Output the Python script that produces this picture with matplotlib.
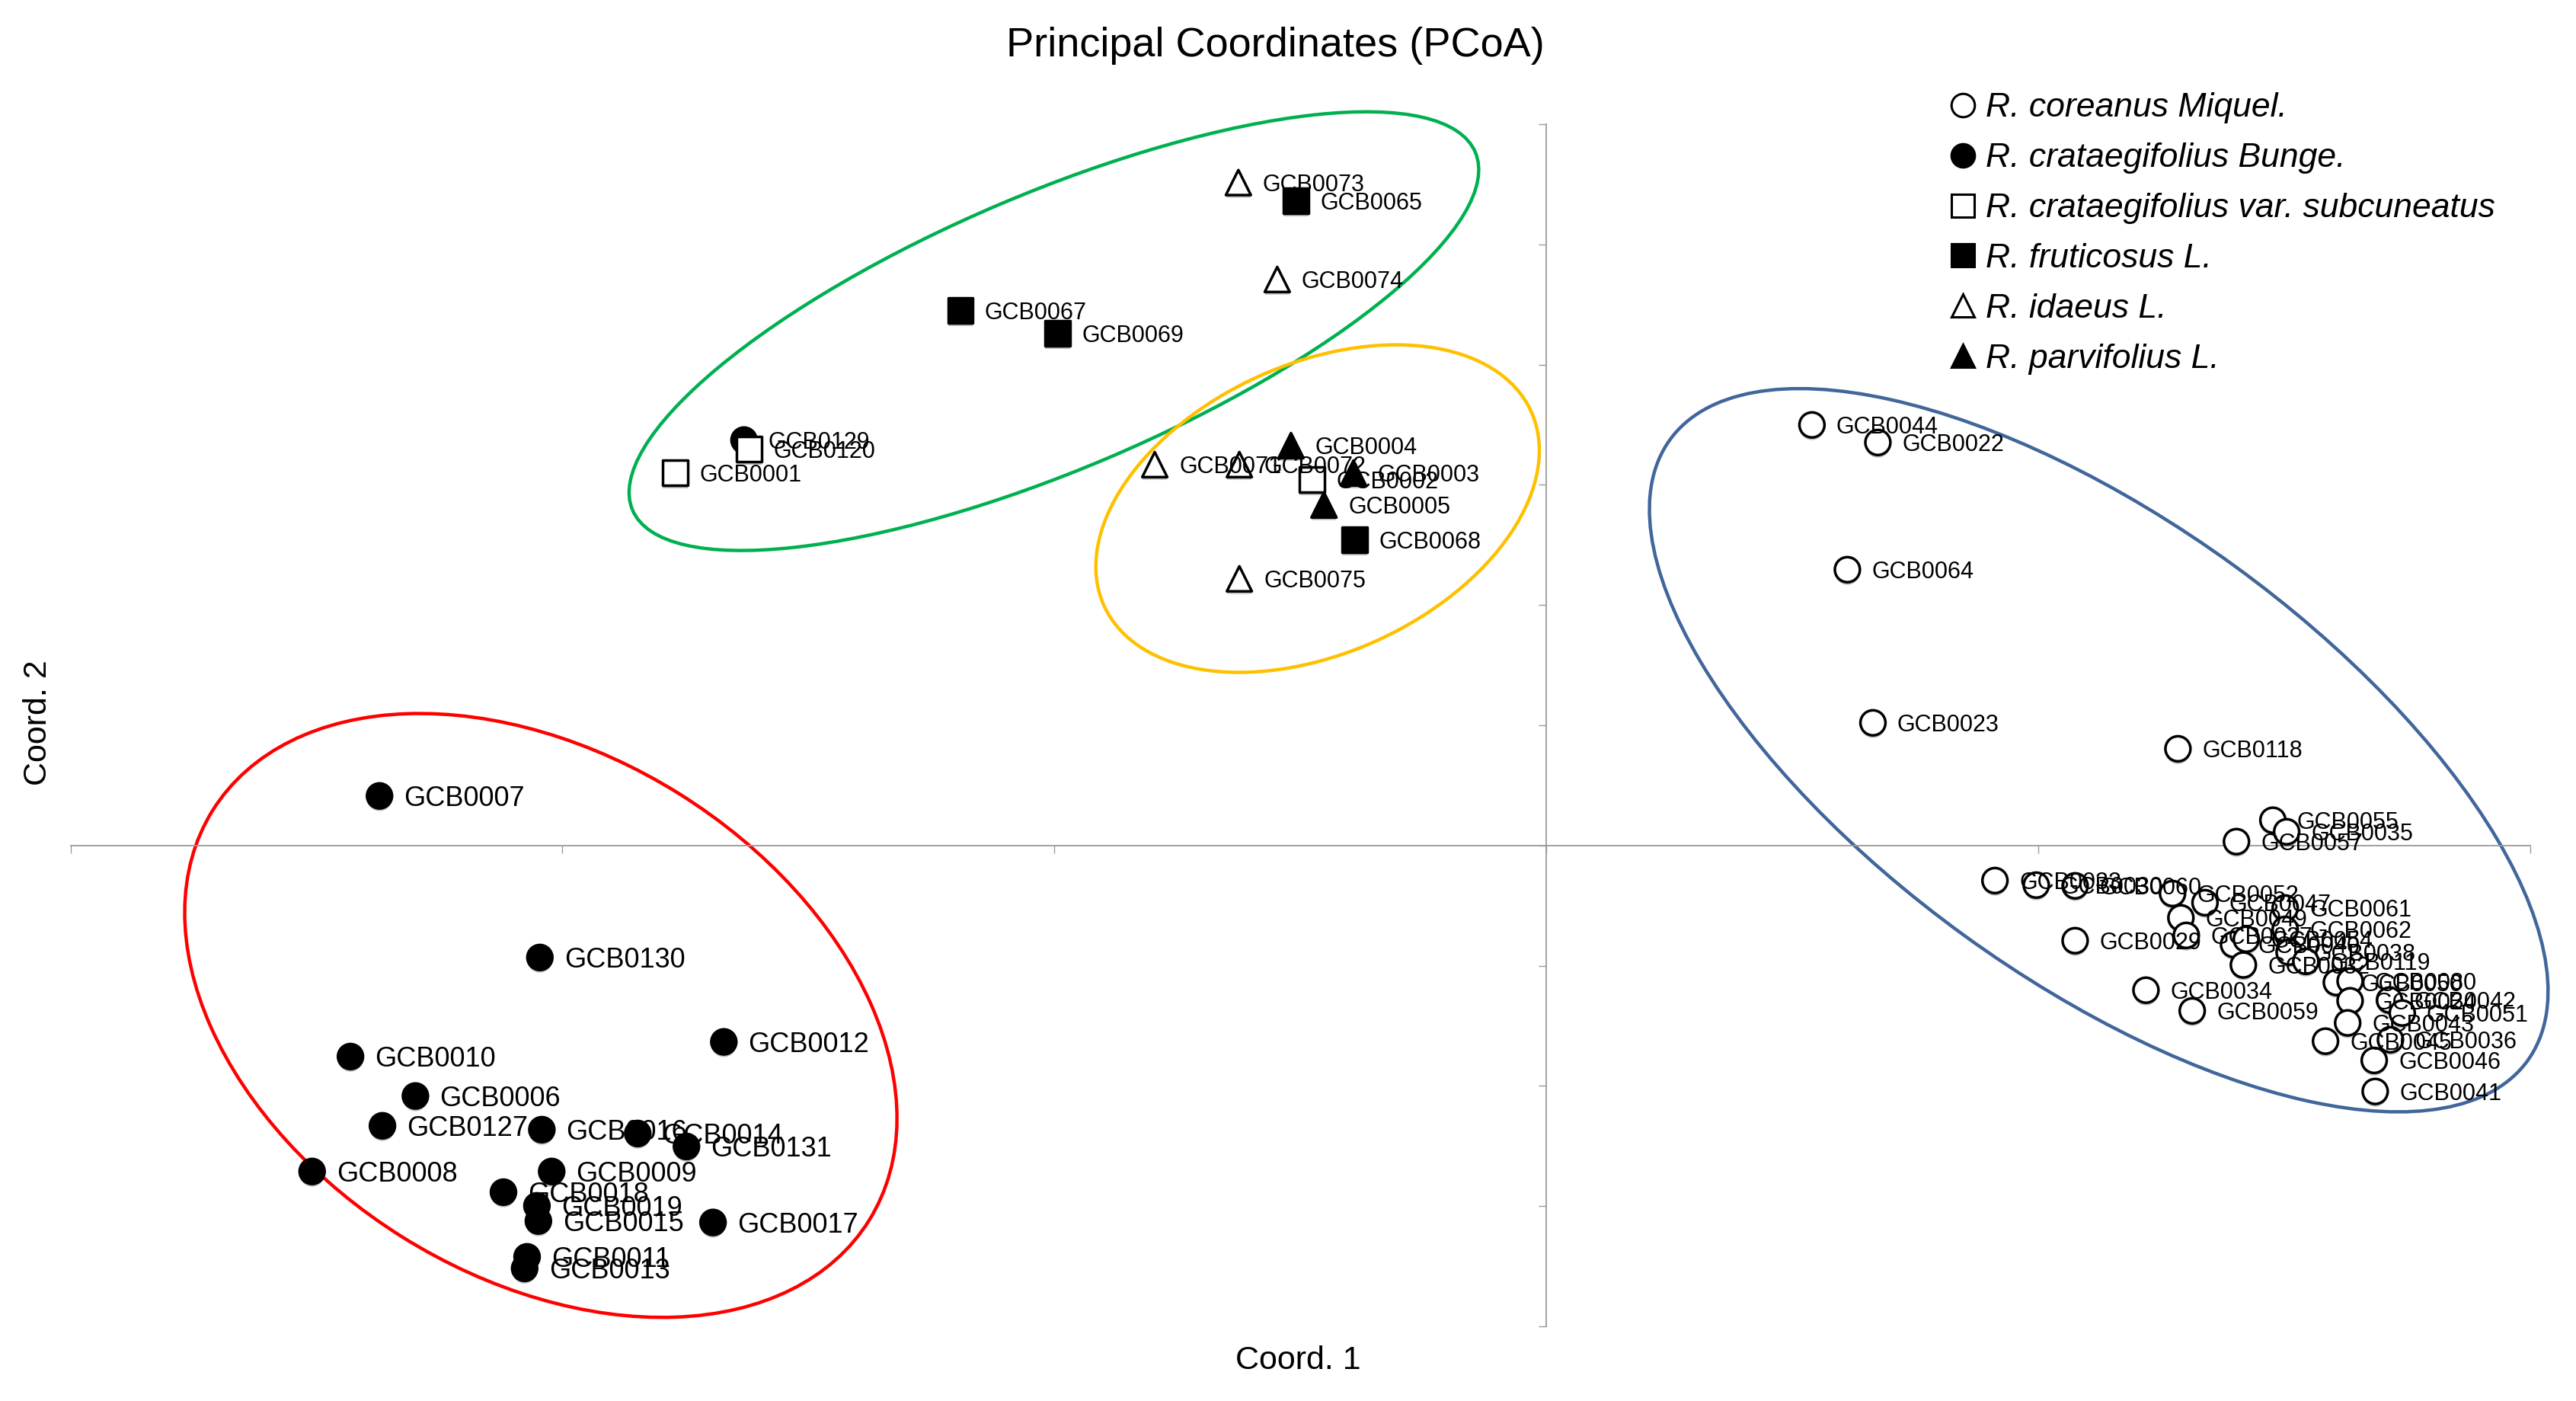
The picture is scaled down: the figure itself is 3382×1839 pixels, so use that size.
import matplotlib
matplotlib.use("Agg")
import matplotlib.pyplot as plt
import matplotlib.patheffects as pe
from matplotlib.lines import Line2D
from matplotlib.patches import Ellipse
from matplotlib.transforms import ScaledTranslation

plt.rcParams['font.family'] = ['Liberation Sans', 'DejaVu Sans']

# legend order
species = ["R. coreanus Miquel.",
           "R. crataegifolius Bunge.",
           "R. crataegifolius var. subcuneatus",
           "R. fruticosus L.",
           "R. idaeus L.",
           "R. parvifolius L."]

# PCoA coordinates (Coord. 1, Coord. 2)
coreanus_ids = ["GCB0044", "GCB0022", "GCB0064", "GCB0023", "GCB0118", "GCB0055", "GCB0035",
                "GCB0057", "GCB0033", "GCB0030", "GCB0060", "GCB0052", "GCB0047", "GCB0061",
                "GCB0049", "GCB0062", "GCB0029", "GCB0027", "GCB0040", "GCB0054", "GCB0032",
                "GCB0038", "GCB0119", "GCB0050", "GCB0080", "GCB0024", "GCB0042", "GCB0051",
                "GCB0043", "GCB0045", "GCB0036", "GCB0046", "GCB0041", "GCB0034", "GCB0059"]
coreanus_x = [0.0540, 0.0674, 0.0612, 0.0664, 0.1284, 0.1477, 0.1505,
              0.1403, 0.0912, 0.0996, 0.1075, 0.1273, 0.1339, 0.1502,
              0.1290, 0.1502, 0.1075, 0.1301, 0.1397, 0.1423, 0.1417,
              0.1510, 0.1544, 0.1606, 0.1634, 0.1634, 0.1714, 0.1740,
              0.1629, 0.1584, 0.1716, 0.1683, 0.1685, 0.1219, 0.1313]
coreanus_y = [0.1749, 0.1676, 0.1147, 0.0510, 0.0402, 0.0105, 0.0057,
              0.0016, -0.0146, -0.0165, -0.0168, -0.0200, -0.0238, -0.0260,
              -0.0301, -0.0349, -0.0396, -0.0374, -0.0412, -0.0390, -0.0497,
              -0.0444, -0.0482, -0.0570, -0.0564, -0.0646, -0.0643, -0.0697,
              -0.0738, -0.0814, -0.0808, -0.0894, -0.1023, -0.0602, -0.0688]

bunge_ids = ["GCB0007", "GCB0130", "GCB0012", "GCB0010", "GCB0006", "GCB0127", "GCB0016",
             "GCB0014", "GCB0131", "GCB0008", "GCB0009", "GCB0018", "GCB0019", "GCB0015",
             "GCB0017", "GCB0011", "GCB0013", "GCB0129"]
bunge_x = [-0.2372, -0.2046, -0.1672, -0.2431, -0.2299, -0.2366, -0.2042,
           -0.1847, -0.1748, -0.2509, -0.2022, -0.2120, -0.2052, -0.2049,
           -0.1694, -0.2072, -0.2077, -0.1631]
bunge_y = [0.0206, -0.0466, -0.0817, -0.0878, -0.1042, -0.1166, -0.1182,
           -0.1198, -0.1252, -0.1356, -0.1356, -0.1442, -0.1499, -0.1562,
           -0.1568, -0.1711, -0.1759, 0.1686]

subcuneatus_ids = ["GCB0001", "GCB0120", "GCB0002"]
subcuneatus_x = [-0.1771, -0.1621, -0.0477]
subcuneatus_y = [0.1549, 0.1648, 0.1521]

fruticosus_ids = ["GCB0065", "GCB0067", "GCB0069", "GCB0068"]
fruticosus_x = [-0.0509, -0.1191, -0.0993, -0.0390]
fruticosus_y = [0.2681, 0.2224, 0.2129, 0.1271]

idaeus_ids = ["GCB0073", "GCB0074", "GCB0071", "GCB0072", "GCB0075"]
idaeus_x = [-0.0626, -0.0547, -0.0796, -0.0624, -0.0624]
idaeus_y = [0.2757, 0.2354, 0.1584, 0.1584, 0.1109]

parvifolius_ids = ["GCB0004", "GCB0003", "GCB0005"]
parvifolius_x = [-0.0519, -0.0392, -0.0452]
parvifolius_y = [0.1663, 0.1549, 0.1416]

groups = [
    (coreanus_ids, coreanus_x, coreanus_y, "o", "white"),
    (bunge_ids, bunge_x, bunge_y, "o", "black"),
    (subcuneatus_ids, subcuneatus_x, subcuneatus_y, "s", "white"),
    (fruticosus_ids, fruticosus_x, fruticosus_y, "s", "black"),
    (idaeus_ids, idaeus_x, idaeus_y, "^", "white"),
    (parvifolius_ids, parvifolius_x, parvifolius_y, "^", "black"),
]

fig = plt.figure(figsize=(33.82, 18.39), dpi=100)
ax = fig.add_axes([0.0274, 0.0533, 0.9548, 0.8581])
ax.set_xlim(-0.3, 0.2)
ax.set_ylim(-0.2, 0.3)

# axes crossing at the origin, Excel style
for side in ["top", "right"]:
    ax.spines[side].set_visible(False)
ax.spines["left"].set_position(("data", 0))
ax.spines["bottom"].set_position(("data", 0))
for side in ["left", "bottom"]:
    ax.spines[side].set_color("#9a9a9a")
    ax.spines[side].set_linewidth(1.3)
ax.set_xticks([-0.3, -0.2, -0.1, 0.0, 0.1, 0.2])
ax.set_yticks([-0.2, -0.15, -0.1, -0.05, 0.0, 0.05, 0.1, 0.15, 0.2, 0.25, 0.3])
ax.tick_params(direction="out", length=7, width=1.0, color="#9a9a9a",
               labelleft=False, labelbottom=False)

shadow = [pe.SimplePatchShadow(offset=(0, -2.5), shadow_rgbFace="black", alpha=0.25), pe.Normal()]

for ids, xs, ys, mk, face in groups:
    ax.scatter(xs, ys, s=560, marker=mk, facecolors=face, edgecolors="black",
               linewidths=2.5, zorder=3, clip_on=False, path_effects=shadow)
    for name, x, y in zip(ids, xs, ys):
        # the lower-left cluster carries larger labels in the original
        big = face == "black" and mk == "o" and y < 0.1
        ax.annotate(name, (x, y), xytext=(23, 0), textcoords="offset points",
                    ha="left", va="center_baseline", fontsize=26 if big else 22,
                    zorder=4, annotation_clip=False)


def add_ring(cx, cy, w_px, h_px, angle, color):
    trans = ScaledTranslation(cx, cy, ax.transData)
    ax.add_patch(Ellipse((0, 0), w_px, h_px, angle=angle, transform=trans, fill=False,
                         edgecolor=color, linewidth=3.2, clip_on=False, zorder=2))


add_ring(-0.1001, 0.2139, 1202, 362, 23, "#00B050")
add_ring(-0.0465, 0.1401, 616, 380, 24.5, "#FFC000")
add_ring(-0.2044, -0.0707, 1016, 686, -32, "#FF0000")
add_ring(0.1123, 0.0396, 1390, 601, -35.9, "#41669B")

handles = [Line2D([], [], ls="none", marker=mk, markersize=22, markerfacecolor=face,
                  markeredgecolor="black", markeredgewidth=2.2)
           for _, _, _, mk, face in groups]
fig.legend(handles, species, loc="upper left", bbox_to_anchor=(0.757, 0.934),
           frameon=False, prop={"style": "italic", "size": 32}, handlelength=0.75,
           handletextpad=0.3, labelspacing=0.56, borderpad=0, borderaxespad=0)

fig.text(1674 / 3382, 1 - 60 / 1839, "Principal Coordinates (PCoA)", ha="center", va="center",
         fontsize=39)
fig.text(1704 / 3382, 1 - 1786 / 1839, "Coord. 1", ha="center", va="center", fontsize=31)
fig.text(50 / 3382, 1 - 949 / 1839, "Coord. 2", ha="center", va="center", fontsize=31,
         rotation=90)

fig.savefig("out.png", dpi=100)
